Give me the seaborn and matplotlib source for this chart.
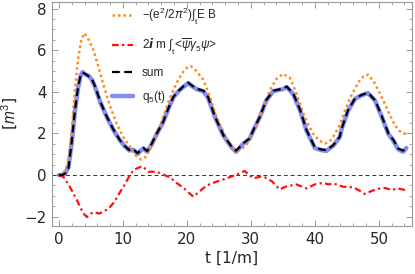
import matplotlib
matplotlib.use("Agg")
import matplotlib.pyplot as plt
from matplotlib.ticker import MultipleLocator
import pandas as pd
import seaborn as sns

# -(e^2/2pi^2) int E B
t_eb = [0, 0.5, 1.0, 1.5, 2.0, 2.5, 3.0, 3.5, 4.0, 4.5, 5.4, 6.0, 6.9, 8.0, 9.0, 10.0, 11.1, 12.0,
        12.8, 13.5, 14.7, 15.5, 16.3, 17.1, 17.9, 18.7, 19.4, 20.0, 20.6, 21.5, 22.6, 23.6, 24.6,
        25.7, 26.5, 27.2, 28.0, 28.6, 29.3, 30.1, 30.9, 32.0, 33.0, 34.0, 35.0, 36.1, 37.1, 38.2,
        39.0, 39.7, 40.7, 41.6, 42.3, 42.9, 43.9, 44.7, 45.5, 46.3, 47.1, 47.8, 48.4, 49.4, 50.2,
        50.9, 51.7, 52.5, 53.5, 54.3]
eb = [0, 0.02, 0.25, 0.7, 2.1, 4.1, 5.6, 6.5, 6.82, 6.6, 6.0, 5.4, 4.4, 3.3, 2.5, 1.85, 1.36, 0.95,
      0.75, 0.85, 1.52, 2.1, 2.8, 3.5, 4.1, 4.6, 4.95, 5.15, 5.24, 5.0, 4.57, 3.76, 2.8,
      2.08, 1.6, 1.28, 1.17, 1.25, 1.44, 1.85, 2.4, 3.3, 4.1, 4.62, 4.86, 4.68, 3.95, 2.96,
      2.4, 2.0, 1.65, 1.52, 1.6, 1.85, 2.4, 3.1, 3.7, 4.17, 4.6, 4.8, 4.82, 4.4, 3.9,
      3.45, 2.9, 2.4, 2.03, 1.97]

# 2 i m int <psibar gamma5 psi>
t_ferm = [0, 0.7, 1.7, 2.8, 3.8, 4.4, 5.0, 5.5, 6.3, 7.0, 7.8, 8.5, 9.0, 9.5, 10.3, 11.0, 11.7, 12.3,
          13.0, 13.5, 14.0, 15.3, 16.3, 17.3, 18.4, 19.5, 20.3, 21.0, 22.0, 23.1, 24.6, 26.2, 27.5,
          28.3, 29.0, 29.6, 30.4, 31.4, 32.2, 33.3, 34.5, 35.5, 37.1, 38.7, 40.0, 41.3, 42.1, 42.9,
          44.4, 46.0, 47.0, 47.8, 49.0, 50.2, 51.0, 52.0, 53.0, 54.1]
ferm = [0, -0.08, -0.56, -1.2, -1.84, -2.02, -1.85, -1.78, -1.85, -1.75, -1.6, -1.35, -1.12, -0.85,
        -0.45, -0.05, 0.25, 0.33, 0.43, 0.3, 0.16, 0.16, 0.02, -0.1, -0.38, -0.62, -0.85, -1.04,
        -0.78, -0.5, -0.32, -0.16, 0.0, 0.08, 0.2, 0.05, -0.16, -0.08, -0.11, -0.3, -0.69, -0.55,
        -0.45, -0.64, -0.45, -0.37, -0.45, -0.4, -0.56, -0.59, -0.75, -0.91, -0.75, -0.64, -0.62,
        -0.72, -0.64, -0.72]

# sum and q5(t)
t_sum = [0, 0.5, 1.0, 1.5, 2.0, 2.5, 3.0, 3.4, 3.7, 4.2, 4.6, 5.1, 5.6, 6.5, 7.5, 8.5, 9.5, 10.3,
         11.0, 11.6, 12.3, 12.8, 13.2, 13.8, 14.5, 15.3, 16.3, 17.1, 17.9, 18.7, 19.4, 20.2, 20.8,
         21.5, 22.6, 23.3, 24.4, 25.7, 27.0, 27.7, 28.8, 29.8, 30.6, 31.4, 32.4, 33.5, 34.5, 35.0,
         35.6, 36.6, 37.7, 38.7, 40.0, 41.0, 41.8, 42.9, 43.9, 44.2, 45.2, 46.3, 47.3, 48.3, 49.4,
         50.4, 51.5, 52.3, 53.0, 53.8, 54.3]
total = [0, 0.0, 0.08, 0.35, 1.6, 3.1, 4.25, 4.8, 4.92, 4.85, 4.75, 4.65, 4.3, 3.5, 2.8, 2.2, 1.7,
         1.4, 1.2, 1.25, 1.05, 1.2, 1.3, 1.15, 1.5, 2.0, 2.56, 3.2, 3.76, 4.05, 4.25, 4.44, 4.3,
         4.15, 4.05, 3.75, 2.8, 1.92, 1.36, 1.17, 1.52, 1.76, 2.3, 2.8, 3.6, 4.05, 4.12, 4.15,
         4.25, 3.93, 3.13, 2.16, 1.33, 1.23, 1.2, 1.44, 1.85, 2.24, 3.13, 3.69, 3.85, 3.96, 3.6,
         2.88, 2.0, 1.68, 1.28, 1.17, 1.33]
q5 = [0, 0.0, 0.1, 0.38, 1.55, 3.05, 4.2, 4.78, 4.95, 4.82, 4.78, 4.6, 4.28, 3.48, 2.78, 2.18, 1.68,
      1.38, 1.18, 1.22, 1.02, 1.18, 1.28, 1.12, 1.48, 1.98, 2.55, 3.18, 3.74, 4.03, 4.22, 4.42, 4.28,
      4.13, 4.02, 3.72, 2.78, 1.9, 1.33, 1.12, 1.5, 1.74, 2.28, 2.78, 3.58, 4.03, 4.1, 4.13,
      4.23, 3.9, 3.1, 2.13, 1.3, 1.2, 1.16, 1.42, 1.83, 2.22, 3.1, 3.67, 3.83, 3.94, 3.58,
      2.85, 1.97, 1.64, 1.24, 1.12, 1.3]

lab_eb = r"$-$(e$^2$/2$\pi^2$)$\int_\mathrm{t}$E B"
lab_ferm = r"2$\boldsymbol{i}$ m $\int_\mathrm{t}$<$\overline{\psi}\gamma_5\psi$>"

sns.set_style("ticks")
plt.rcParams["font.family"] = ["DejaVu Sans"]
plt.rcParams["mathtext.fontset"] = "custom"
plt.rcParams["mathtext.rm"] = "Liberation Sans"
plt.rcParams["mathtext.sf"] = "Liberation Sans"
plt.rcParams["mathtext.it"] = "Liberation Sans:italic"
plt.rcParams["mathtext.bf"] = "Liberation Sans:bold"
plt.rcParams["mathtext.fallback"] = "stixsans"

fig = plt.figure(figsize=(4.15, 2.74), dpi=100)
ax = fig.add_axes([0.125, 0.175, 0.868, 0.818])

df_eb = pd.DataFrame({"t": t_eb, "v": eb})
df_ferm = pd.DataFrame({"t": t_ferm, "v": ferm})
df_sum = pd.DataFrame({"t": t_sum, "v": total})
df_q5 = pd.DataFrame({"t": t_sum, "v": q5})

ax.axhline(0, color="#333333", lw=0.7, ls=(0, (4, 3)), zorder=1)
sns.lineplot(data=df_q5, x="t", y="v", ax=ax, color="#6470f2", alpha=0.8, lw=3.2, label="q$_5$(t)", zorder=2)
sns.lineplot(data=df_eb, x="t", y="v", ax=ax, color="#ff8c1a", lw=1.8, ls=(0, (1, 1.2)), label=lab_eb, zorder=3)
sns.lineplot(data=df_ferm, x="t", y="v", ax=ax, color="#ff1010", lw=1.6, ls=(0, (3, 1.5, 1, 1.5)), label=lab_ferm, zorder=3)
sns.lineplot(data=df_sum, x="t", y="v", ax=ax, color="black", lw=1.6, ls=(0, (3.5, 2)), label="sum", zorder=4)

ax.set_xlim(-1.1, 55.2)
ax.set_ylim(-2.45, 8.32)
ax.xaxis.set_major_locator(MultipleLocator(10))
ax.xaxis.set_minor_locator(MultipleLocator(2))
ax.yaxis.set_major_locator(MultipleLocator(2))
ax.yaxis.set_minor_locator(MultipleLocator(0.5))
ax.tick_params(which="both", direction="in", top=True, right=True, color="#999999",
               labelsize=10.8, labeltop=False, labelright=False)
ax.tick_params(which="major", length=4, width=0.7, pad=4)
ax.tick_params(which="minor", length=2.3, width=0.6)
for s in ax.spines.values():
    s.set_color("#999999")
    s.set_linewidth(0.8)

ax.set_xlabel("t [1/m]", fontsize=11.2, labelpad=3)
ax.set_ylabel(r"[$m^3$]", fontsize=11.2, labelpad=3)

h, l = ax.get_legend_handles_labels()
order = [1, 2, 3, 0]
leg = ax.legend([h[i] for i in order], [l[i] for i in order], loc="upper left", bbox_to_anchor=(0.158, 1.0),
                frameon=False, prop={"family": "Liberation Sans", "size": 8.5}, handlelength=1.75,
                handletextpad=0.75, labelspacing=0.85, borderaxespad=0.0, borderpad=0.3)
leg.set_zorder(10)

fig.savefig("out.png", dpi=100)
